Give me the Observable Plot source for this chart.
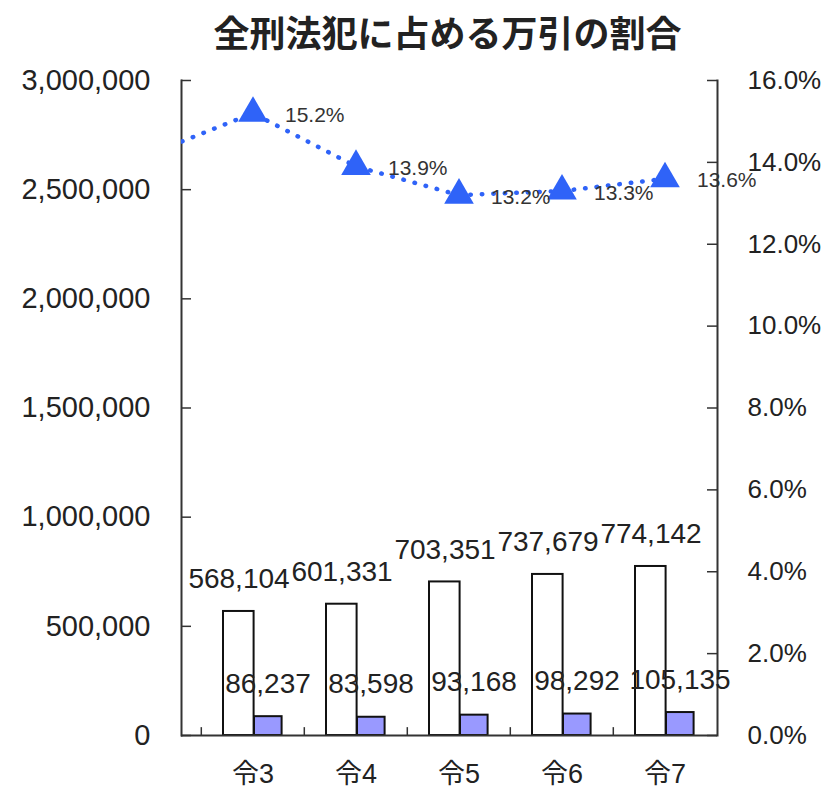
<!DOCTYPE html>
<html>
<head>
<meta charset="utf-8">
<script src="https://cdn.jsdelivr.net/npm/d3@7"></script>
<script src="https://cdn.jsdelivr.net/npm/@observablehq/plot@0.6"></script>
<style>
  html, body { margin: 0; padding: 0; background: #fff; }
  #title { width: 823px; height: 62px; line-height: 62px; box-sizing: border-box; padding-left: 72px;
    text-align: center; font-family: "Noto Sans CJK JP", sans-serif; font-weight: 700; font-size: 36px; color: #222; }
</style>
</head>
<body>
<div id="title">全刑法犯に占める万引の割合</div>
<div id="chart"></div>
<script>
// Data
const categories = ["令3", "令4", "令5", "令6", "令7"];
const totalCrimes = [568104, 601331, 703351, 737679, 774142];
const shoplifting = [86237, 83598, 93168, 98292, 105135];
// ratio line (the first point, 令2, is partly visible at the left edge)
const lineCategories = ["令2", "令3", "令4", "令5", "令6", "令7"];
const ratioPct = [14.2, 15.2, 13.9, 13.2, 13.3, 13.6];
const leftTicks = [0, 500000, 1000000, 1500000, 2000000, 2500000, 3000000];
const rightTicksPct = [0, 2, 4, 6, 8, 10, 12, 14, 16];

const yMax = 3000000, pctMax = 16, k = yMax / pctMax;

const W = 823, H = 729, mL = 181, mR = 106, mT = 18, mB = 56;
const plotLeft = 200; // first visible band starts here
const bw = (W - mR - plotLeft) / categories.length;
const frameW = W - mR - mL;

const bars1 = categories.map((c, i) => ({cat: c, v: totalCrimes[i]}));
const bars2 = categories.map((c, i) => ({cat: c, v: shoplifting[i]}));
const line = lineCategories.map((c, i) => ({cat: c, p: ratioPct[i]}));
const linePts = line.filter(d => categories.includes(d.cat));

const font = "'Liberation Sans', Arial, 'Noto Sans CJK JP', sans-serif";
const ink = "#222";
const blue = "#2f63f8";

const chart = Plot.plot({
  width: W, height: H,
  marginLeft: mL, marginRight: mR, marginTop: mT, marginBottom: mB,
  style: {fontFamily: font, color: ink, background: "#fff"},
  x: {type: "band", domain: lineCategories, range: [plotLeft - bw, W - mR], padding: 0, axis: null, label: null},
  y: {domain: [0, yMax], axis: null, label: null},
  marks: [
    // bars
    Plot.barY(bars1, {x: "cat", y: "v", fill: "#fff", stroke: "#111", strokeWidth: 2,
      insetLeft: 22, insetRight: bw - 53}),
    Plot.barY(bars2, {x: "cat", y: "v", fill: "#9999ff", stroke: "#111", strokeWidth: 2,
      insetLeft: 53, insetRight: bw - 81}),
    // frame lines
    Plot.frame({anchor: "left", stroke: "#333", strokeWidth: 2}),
    Plot.frame({anchor: "right", stroke: "#333", strokeWidth: 2}),
    Plot.ruleY([0], {stroke: "#333", strokeWidth: 2}),
    // inward ticks
    Plot.ruleY(leftTicks, {y: d => d, insetRight: frameW - 10, stroke: "#333", strokeWidth: 1.5}),
    Plot.ruleY(rightTicksPct, {y: d => d * k, insetLeft: frameW - 10, stroke: "#333", strokeWidth: 1.5}),
    Plot.ruleX(categories, {x: d => d, dx: -bw / 2, y1: 0, y2: 36000, stroke: "#333", strokeWidth: 1.5}),
    // axes labels
    Plot.axisY(leftTicks, {anchor: "left", tickSize: 0, tickPadding: 31, fontSize: 29, label: null,
      tickFormat: d3.format(","), fill: ink}),
    Plot.axisY(rightTicksPct.map(p => p * k), {anchor: "right", tickSize: 0, tickPadding: 30, fontSize: 26,
      label: null, tickFormat: d => (d / k).toFixed(1) + "%", fill: ink}),
    Plot.axisX(categories, {anchor: "bottom", tickSize: 0, tickPadding: 28, fontSize: 27, label: null, fill: ink}),
    // bar labels
    Plot.text(bars1, {x: "cat", y: "v", text: d => d3.format(",")(d.v), dx: -14, dy: -32,
      fontSize: 28, fill: ink}),
    Plot.text(bars2, {x: "cat", y: "v", text: d => d3.format(",")(d.v), dx: 15, dy: -33,
      fontSize: 28, fill: ink}),
    // ratio line
    Plot.line(line, {x: "cat", y: d => d.p * k, stroke: blue, strokeWidth: 4.5,
      strokeDasharray: "0.5 11", strokeLinecap: "round", clip: "frame"}),
    Plot.dot(linePts, {x: "cat", y: d => d.p * k, symbol: "triangle", r: 11, fill: blue, stroke: "none"}),
    Plot.text(linePts, {x: "cat", y: d => d.p * k, text: d => d.p.toFixed(1) + "%", dx: 32, dy: 2,
      textAnchor: "start", fontSize: 21, fill: "#333"})
  ]
});
document.getElementById("chart").appendChild(chart);
</script>
</body>
</html>
